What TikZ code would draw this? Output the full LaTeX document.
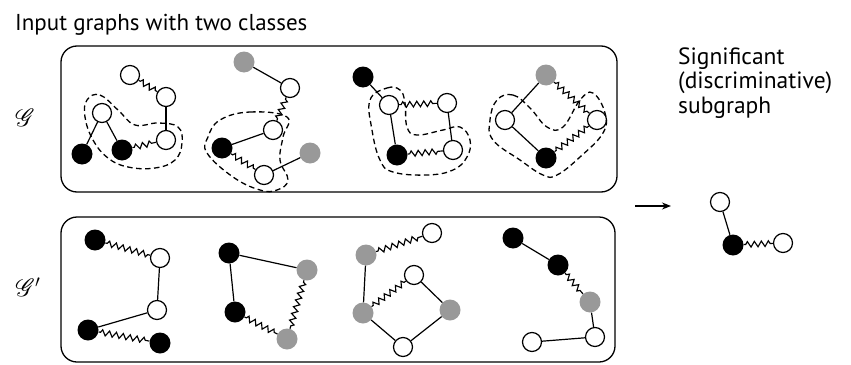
\documentclass[tikz,border=0pt]{standalone}
\usepackage{fontspec}
\setmainfont{PT Sans}
\usepackage{mathrsfs}
\usetikzlibrary{decorations.pathmorphing,arrows.meta}

\tikzset{
  wn/.style={circle, draw, line width=1.2pt, fill=white, minimum size=19pt, inner sep=0pt},
  bn/.style={circle, fill=black, minimum size=21pt, inner sep=0pt},
  gn/.style={circle, fill=black!40, minimum size=21pt, inner sep=0pt},
  edge/.style={line width=1.2pt},
  zz/.style={line width=1.15pt, decorate, decoration={zigzag, segment length=7pt, amplitude=2.8pt, pre length=2pt, post length=2pt}},
  hull/.style={line width=1.3pt, dash pattern=on 5.5pt off 3.5pt},
  panel/.style={draw, line width=1.3pt, rounded corners=16pt},
  lbl/.style={inner sep=0pt},
}

\begin{document}
\begin{tikzpicture}[x=1pt, y=-1pt]
\useasboundingbox (0,0) rectangle (851,364);

% headings and class labels
\node[lbl, anchor=base west, font=\fontsize{23}{26}\selectfont] (title) at (15,30) {Input graphs with two classes};
\node[inner sep=0pt] (gA) at (25,118) {\fontsize{24}{24}\selectfont$\mathscr{G}$};
\node[inner sep=0pt] (gB) at (28,287) {\fontsize{24}{24}\selectfont$\mathscr{G}'$};

% the two panels
\draw[panel] (61,46) rectangle (617,192);
\draw[panel] (61,217) rectangle (615,362);

% ---- class G, graph 1
\node[wn] (a1) at (130,75) {};
\node[wn] (a2) at (166,97) {};
\node[wn] (a3) at (102,113) {};
\node[bn] (a4) at (82,154) {};
\node[bn] (a5) at (122,150) {};
\node[wn] (a6) at (166,140) {};
\draw[zz] (a1) -- (a2);
\draw[edge] (a2) -- (a6);
\draw[edge] (a3) -- (a4);
\draw[edge] (a3) -- (a5);
\draw[zz] (a5) -- (a6);
\draw[hull] plot[smooth cycle, tension=0.7] coordinates {
  (87,100) (100,95) (118,110) (135,125) (158,123) (178,127)
  (182,143) (175,160) (155,168) (128,167) (108,158) (93,140) (85,117)};

% ---- class G, graph 2
\node[gn] (b1) at (244,62) {};
\node[wn] (b2) at (290,88) {};
\node[wn] (b3) at (273,130) {};
\node[bn] (b4) at (222,148) {};
\node[gn] (b5) at (310,153) {};
\node[wn] (b6) at (264,175) {};
\draw[edge] (b1) -- (b2);
\draw[zz] (b2) -- (b3);
\draw[edge] (b3) -- (b4);
\draw[zz] (b4) -- (b6);
\draw[edge] (b6) -- (b5);
\draw[hull] plot[smooth cycle, tension=0.7] coordinates {
  (220,120) (250,112) (287,117) (283,137) (280,160) (288,180)
  (277,190) (260,190) (233,177) (207,153) (208,137)};

% ---- class G, graph 3
\node[bn] (c1) at (363,77) {};
\node[wn] (c2) at (389,105) {};
\node[wn] (c3) at (447,103) {};
\node[bn] (c4) at (397,155) {};
\node[wn] (c5) at (453,150) {};
\draw[edge] (c1) -- (c2);
\draw[zz] (c2) -- (c3);
\draw[edge] (c2) -- (c4);
\draw[edge] (c3) -- (c5);
\draw[zz] (c4) -- (c5);
\draw[hull] plot[smooth cycle, tension=0.7] coordinates {
  (370,100) (387,88) (400,90) (405,103) (407,127) (417,135) (443,130)
  (460,127) (470,140) (467,157) (453,170) (427,175) (393,172) (380,160) (372,130)};

% ---- class G, graph 4
\node[gn] (d1) at (546,75) {};
\node[wn] (d2) at (505,120) {};
\node[wn] (d3) at (597,120) {};
\node[bn] (d4) at (546,158) {};
\draw[edge] (d1) -- (d2);
\draw[zz] (d1) -- (d3);
\draw[edge] (d2) -- (d4);
\draw[zz] (d4) -- (d3);
\draw[hull] plot[smooth cycle, tension=0.7] coordinates {
  (497,100) (513,95) (530,108) (547,127) (563,127) (580,100) (593,93)
  (605,113) (603,133) (580,157) (557,175) (543,175) (520,160) (493,140) (490,120)};

% ---- class G', graph 5
\node[bn] (e1) at (95,240) {};
\node[wn] (e2) at (160,258) {};
\node[wn] (e3) at (157,310) {};
\node[bn] (e4) at (88,330) {};
\node[bn] (e5) at (160,343) {};
\draw[zz] (e1) -- (e2);
\draw[edge] (e2) -- (e3);
\draw[edge] (e3) -- (e4);
\draw[zz] (e4) -- (e5);

% ---- class G', graph 6
\node[bn] (f1) at (229,253) {};
\node[gn] (f2) at (307,270) {};
\node[bn] (f3) at (235,312) {};
\node[gn] (f4) at (287,339) {};
\draw[edge] (f1) -- (f2);
\draw[edge] (f1) -- (f3);
\draw[zz] (f2) -- (f4);
\draw[zz] (f3) -- (f4);

% ---- class G', graph 7
\node[wn] (g1) at (432,233) {};
\node[gn] (g2) at (366,255) {};
\node[wn] (g3) at (414,275) {};
\node[gn] (g4) at (363,313) {};
\node[gn] (g5) at (450,310) {};
\node[wn] (g6) at (403,347) {};
\draw[zz] (g2) -- (g1);
\draw[edge] (g2) -- (g4);
\draw[zz] (g4) -- (g3);
\draw[edge] (g3) -- (g5);
\draw[edge] (g4) -- (g6);
\draw[edge] (g6) -- (g5);

% ---- class G', graph 8
\node[bn] (h1) at (513,238) {};
\node[bn] (h2) at (558,265) {};
\node[gn] (h3) at (590,302) {};
\node[wn] (h4) at (595,337) {};
\node[wn] (h5) at (532,342) {};
\draw[edge] (h1) -- (h2);
\draw[zz] (h2) -- (h3);
\draw[edge] (h3) -- (h4);
\draw[edge] (h4) -- (h5);

% ---- result: arrow and the significant subgraph
\coordinate (arrS) at (635,206);
\coordinate (arrE) at (671,206);
\draw[line width=1.2pt, -{Stealth[length=9pt, width=7pt]}] (arrS) -- (arrE);
\node[lbl, anchor=base west, align=left, font=\fontsize{23.5}{24.5}\selectfont] (res) at (678,113)
  {Significant\\(discriminative)\\subgraph};
\node[wn] (s1) at (720,202) {};
\node[bn] (s2) at (733,245) {};
\node[wn] (s3) at (783,243) {};
\draw[edge] (s1) -- (s2);
\draw[zz] (s2) -- (s3);
\end{tikzpicture}
\end{document}
